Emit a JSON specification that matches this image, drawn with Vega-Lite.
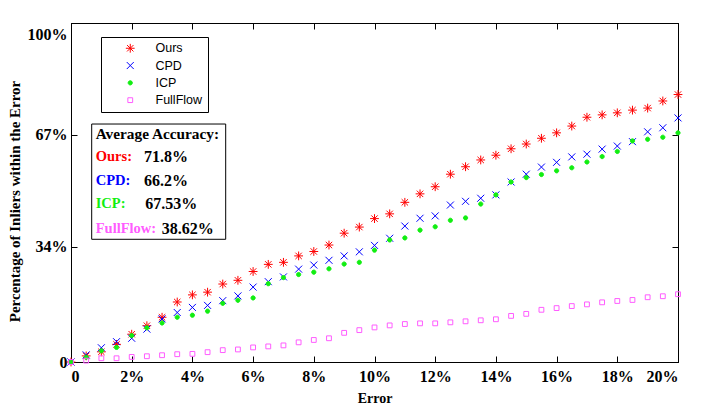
{
  "$schema": "https://vega.github.io/schema/vega-lite/v6.json",
  "width": 607,
  "height": 339,
  "autosize": {"type": "none"},
  "padding": {"left": 71, "top": 23, "right": 25, "bottom": 45},
  "background": "white",
  "data": {
    "values": [
      {"e": 0, "m": "Ours", "v": 0}, {"e": 0.5, "m": "Ours", "v": 1.8}, {"e": 1, "m": "Ours", "v": 3.0}, {"e": 1.5, "m": "Ours", "v": 5.2},
      {"e": 2, "m": "Ours", "v": 8.2}, {"e": 2.5, "m": "Ours", "v": 10.7}, {"e": 3, "m": "Ours", "v": 13.2}, {"e": 3.5, "m": "Ours", "v": 17.7},
      {"e": 4, "m": "Ours", "v": 19.8}, {"e": 4.5, "m": "Ours", "v": 20.6}, {"e": 5, "m": "Ours", "v": 23.0}, {"e": 5.5, "m": "Ours", "v": 24.1},
      {"e": 6, "m": "Ours", "v": 26.7}, {"e": 6.5, "m": "Ours", "v": 28.8}, {"e": 7, "m": "Ours", "v": 29.4}, {"e": 7.5, "m": "Ours", "v": 31.3},
      {"e": 8, "m": "Ours", "v": 32.6}, {"e": 8.5, "m": "Ours", "v": 34.5}, {"e": 9, "m": "Ours", "v": 38.0}, {"e": 9.5, "m": "Ours", "v": 39.8},
      {"e": 10, "m": "Ours", "v": 42.3}, {"e": 10.5, "m": "Ours", "v": 43.7}, {"e": 11, "m": "Ours", "v": 47.1}, {"e": 11.5, "m": "Ours", "v": 49.6},
      {"e": 12, "m": "Ours", "v": 51.7}, {"e": 12.5, "m": "Ours", "v": 55.4}, {"e": 13, "m": "Ours", "v": 57.6}, {"e": 13.5, "m": "Ours", "v": 59.6},
      {"e": 14, "m": "Ours", "v": 61.0}, {"e": 14.5, "m": "Ours", "v": 62.9}, {"e": 15, "m": "Ours", "v": 64.3}, {"e": 15.5, "m": "Ours", "v": 66.0},
      {"e": 16, "m": "Ours", "v": 67.6}, {"e": 16.5, "m": "Ours", "v": 69.6}, {"e": 17, "m": "Ours", "v": 72.2}, {"e": 17.5, "m": "Ours", "v": 72.9},
      {"e": 18, "m": "Ours", "v": 73.5}, {"e": 18.5, "m": "Ours", "v": 74.3}, {"e": 19, "m": "Ours", "v": 74.9}, {"e": 19.5, "m": "Ours", "v": 77.0},
      {"e": 20, "m": "Ours", "v": 78.9},
      {"e": 0, "m": "CPD", "v": 0}, {"e": 0.5, "m": "CPD", "v": 2.1}, {"e": 1, "m": "CPD", "v": 4.2}, {"e": 1.5, "m": "CPD", "v": 6.0},
      {"e": 2, "m": "CPD", "v": 7.0}, {"e": 2.5, "m": "CPD", "v": 9.7}, {"e": 3, "m": "CPD", "v": 12.7}, {"e": 3.5, "m": "CPD", "v": 14.6},
      {"e": 4, "m": "CPD", "v": 16.1}, {"e": 4.5, "m": "CPD", "v": 16.7}, {"e": 5, "m": "CPD", "v": 18.1}, {"e": 5.5, "m": "CPD", "v": 19.5},
      {"e": 6, "m": "CPD", "v": 22.1}, {"e": 6.5, "m": "CPD", "v": 23.7}, {"e": 7, "m": "CPD", "v": 25.1}, {"e": 7.5, "m": "CPD", "v": 27.4},
      {"e": 8, "m": "CPD", "v": 28.6}, {"e": 8.5, "m": "CPD", "v": 30.0}, {"e": 9, "m": "CPD", "v": 31.3}, {"e": 9.5, "m": "CPD", "v": 32.5},
      {"e": 10, "m": "CPD", "v": 34.4}, {"e": 10.5, "m": "CPD", "v": 36.5}, {"e": 11, "m": "CPD", "v": 40.1}, {"e": 11.5, "m": "CPD", "v": 42.4},
      {"e": 12, "m": "CPD", "v": 43.1}, {"e": 12.5, "m": "CPD", "v": 46.3}, {"e": 13, "m": "CPD", "v": 47.4}, {"e": 13.5, "m": "CPD", "v": 48.3},
      {"e": 14, "m": "CPD", "v": 49.3}, {"e": 14.5, "m": "CPD", "v": 53.1}, {"e": 15, "m": "CPD", "v": 55.4}, {"e": 15.5, "m": "CPD", "v": 57.5},
      {"e": 16, "m": "CPD", "v": 58.9}, {"e": 16.5, "m": "CPD", "v": 60.5}, {"e": 17, "m": "CPD", "v": 61.3}, {"e": 17.5, "m": "CPD", "v": 62.8},
      {"e": 18, "m": "CPD", "v": 63.7}, {"e": 18.5, "m": "CPD", "v": 65.0}, {"e": 19, "m": "CPD", "v": 67.9}, {"e": 19.5, "m": "CPD", "v": 69.1},
      {"e": 20, "m": "CPD", "v": 72.0},
      {"e": 0, "m": "ICP", "v": 0}, {"e": 0.5, "m": "ICP", "v": 1.4}, {"e": 1, "m": "ICP", "v": 3.3}, {"e": 1.5, "m": "ICP", "v": 4.3},
      {"e": 2, "m": "ICP", "v": 7.8}, {"e": 2.5, "m": "ICP", "v": 10.1}, {"e": 3, "m": "ICP", "v": 11.5}, {"e": 3.5, "m": "ICP", "v": 13.2},
      {"e": 4, "m": "ICP", "v": 13.8}, {"e": 4.5, "m": "ICP", "v": 15.0}, {"e": 5, "m": "ICP", "v": 17.3}, {"e": 5.5, "m": "ICP", "v": 18.2},
      {"e": 6, "m": "ICP", "v": 18.9}, {"e": 6.5, "m": "ICP", "v": 23.1}, {"e": 7, "m": "ICP", "v": 24.9}, {"e": 7.5, "m": "ICP", "v": 25.8},
      {"e": 8, "m": "ICP", "v": 26.5}, {"e": 8.5, "m": "ICP", "v": 27.5}, {"e": 9, "m": "ICP", "v": 28.9}, {"e": 9.5, "m": "ICP", "v": 29.4},
      {"e": 10, "m": "ICP", "v": 33.0}, {"e": 10.5, "m": "ICP", "v": 36.0}, {"e": 11, "m": "ICP", "v": 36.6}, {"e": 11.5, "m": "ICP", "v": 38.9},
      {"e": 12, "m": "ICP", "v": 39.9}, {"e": 12.5, "m": "ICP", "v": 41.8}, {"e": 13, "m": "ICP", "v": 42.5}, {"e": 13.5, "m": "ICP", "v": 46.6},
      {"e": 14, "m": "ICP", "v": 49.3}, {"e": 14.5, "m": "ICP", "v": 53.1}, {"e": 15, "m": "ICP", "v": 54.4}, {"e": 15.5, "m": "ICP", "v": 55.3},
      {"e": 16, "m": "ICP", "v": 56.4}, {"e": 16.5, "m": "ICP", "v": 57.3}, {"e": 17, "m": "ICP", "v": 59.0}, {"e": 17.5, "m": "ICP", "v": 60.6},
      {"e": 18, "m": "ICP", "v": 62.1}, {"e": 18.5, "m": "ICP", "v": 65.2}, {"e": 19, "m": "ICP", "v": 65.7}, {"e": 19.5, "m": "ICP", "v": 66.3},
      {"e": 20, "m": "ICP", "v": 67.6},
      {"e": 0, "m": "FullFlow", "v": 0}, {"e": 0.5, "m": "FullFlow", "v": 0.4}, {"e": 1, "m": "FullFlow", "v": 1.1}, {"e": 1.5, "m": "FullFlow", "v": 1.1},
      {"e": 2, "m": "FullFlow", "v": 1.5}, {"e": 2.5, "m": "FullFlow", "v": 1.7}, {"e": 3, "m": "FullFlow", "v": 2.0}, {"e": 3.5, "m": "FullFlow", "v": 2.3},
      {"e": 4, "m": "FullFlow", "v": 2.4}, {"e": 4.5, "m": "FullFlow", "v": 2.9}, {"e": 5, "m": "FullFlow", "v": 3.5}, {"e": 5.5, "m": "FullFlow", "v": 3.7},
      {"e": 6, "m": "FullFlow", "v": 4.3}, {"e": 6.5, "m": "FullFlow", "v": 4.6}, {"e": 7, "m": "FullFlow", "v": 4.9}, {"e": 7.5, "m": "FullFlow", "v": 5.8},
      {"e": 8, "m": "FullFlow", "v": 6.5}, {"e": 8.5, "m": "FullFlow", "v": 7.0}, {"e": 9, "m": "FullFlow", "v": 8.6}, {"e": 9.5, "m": "FullFlow", "v": 9.4},
      {"e": 10, "m": "FullFlow", "v": 10.2}, {"e": 10.5, "m": "FullFlow", "v": 10.8}, {"e": 11, "m": "FullFlow", "v": 11.2}, {"e": 11.5, "m": "FullFlow", "v": 11.4},
      {"e": 12, "m": "FullFlow", "v": 11.4}, {"e": 12.5, "m": "FullFlow", "v": 11.7}, {"e": 13, "m": "FullFlow", "v": 12.0}, {"e": 13.5, "m": "FullFlow", "v": 12.3},
      {"e": 14, "m": "FullFlow", "v": 12.6}, {"e": 14.5, "m": "FullFlow", "v": 13.6}, {"e": 15, "m": "FullFlow", "v": 14.2}, {"e": 15.5, "m": "FullFlow", "v": 15.4},
      {"e": 16, "m": "FullFlow", "v": 15.9}, {"e": 16.5, "m": "FullFlow", "v": 16.5}, {"e": 17, "m": "FullFlow", "v": 17.0}, {"e": 17.5, "m": "FullFlow", "v": 17.6},
      {"e": 18, "m": "FullFlow", "v": 18.0}, {"e": 18.5, "m": "FullFlow", "v": 18.3}, {"e": 19, "m": "FullFlow", "v": 19.1}, {"e": 19.5, "m": "FullFlow", "v": 19.4},
      {"e": 20, "m": "FullFlow", "v": 20.0}
    ]
  },
  "layer": [
    {
      "mark": {"type": "point", "size": 100, "opacity": 1},
      "encoding": {
        "x": {
          "field": "e", "type": "quantitative",
          "scale": {"domain": [0, 20], "nice": false},
          "axis": {
            "orient": "bottom", "title": "Error",
            "values": [0, 2, 4, 6, 8, 10, 12, 14, 16, 18, 20],
            "labelExpr": "datum.value === 0 ? '0' : datum.value + '%'",
            "tickSize": -6, "labelPadding": 12, "titlePadding": 7
          }
        },
        "y": {
          "field": "v", "type": "quantitative",
          "scale": {"domain": [0, 100], "nice": false},
          "axis": {
            "orient": "left", "title": "Percentage of Inliers within the Error",
            "values": [0, 34, 67, 100],
            "labelExpr": "datum.value === 0 ? '0' : datum.value + '%'",
            "labelOffset": {"condition": {"test": "datum.value === 100", "value": 11}, "value": 0},
            "tickSize": -6, "labelPadding": 10, "titlePadding": 5,
            "titleFontSize": 15, "titleY": 178
          }
        },
        "shape": {
          "field": "m", "type": "nominal",
          "scale": {
            "domain": ["Ours", "CPD", "ICP", "FullFlow"],
            "range": [
              "M-0.88,0L0.88,0M0,-0.88L0,0.88M-0.64,-0.64L0.64,0.64M-0.64,0.64L0.64,-0.64",
              "M-0.7,-0.7L0.7,0.7M-0.7,0.7L0.7,-0.7",
              "M0.42,0A0.42,0.42 0 1,1 -0.42,0A0.42,0.42 0 1,1 0.42,0Z",
              "M-0.48,-0.48L0.48,-0.48L0.48,0.48L-0.48,0.48Z"
            ]
          }
        },
        "stroke": {
          "field": "m", "type": "nominal",
          "scale": {"domain": ["Ours", "CPD", "ICP", "FullFlow"], "range": ["#ff0000", "#0000ff", "#11ee11", "#ff5cff"]}
        },
        "fill": {
          "field": "m", "type": "nominal",
          "scale": {"domain": ["Ours", "CPD", "ICP", "FullFlow"], "range": ["transparent", "transparent", "#11ee11", "transparent"]}
        },
        "strokeWidth": {
          "field": "m", "type": "nominal",
          "scale": {"domain": ["Ours", "CPD", "ICP", "FullFlow"], "range": [1, 1, 0.3, 1.6]}
        }
      }
    },
    {
      "mark": {"type": "point", "opacity": 0},
      "encoding": {
        "x": {
          "field": "e", "type": "quantitative",
          "axis": {"orient": "top", "title": null, "labels": false, "values": [0, 2, 4, 6, 8, 10, 12, 14, 16, 18, 20], "tickSize": -6}
        },
        "y": {
          "field": "v", "type": "quantitative",
          "axis": {"orient": "right", "title": null, "labels": false, "values": [0, 34, 67, 100], "tickSize": -6}
        }
      }
    },
    {
      "data": {"values": [{}]},
      "mark": {"type": "rect", "fill": "white", "stroke": "black", "strokeWidth": 1},
      "encoding": {
        "x": {"datum": 0.682, "type": "quantitative", "axis": null},
        "x2": {"datum": 5.097},
        "y": {"datum": 70.2, "type": "quantitative", "axis": null},
        "y2": {"datum": 36.2}
      }
    },
    {
      "data": {"values": [{"t": "Average Accuracy:"}]},
      "mark": {"type": "text", "align": "left", "baseline": "middle", "font": "Liberation Serif", "fontWeight": "bold", "fontSize": 15.3, "color": "black"},
      "encoding": {
        "x": {"datum": 0.814, "type": "quantitative", "axis": null},
        "y": {"datum": 67.3, "type": "quantitative", "axis": null},
        "text": {"field": "t"}
      }
    },
    {
      "data": {"values": [{"t": "Ours:"}]},
      "mark": {"type": "text", "align": "left", "baseline": "middle", "font": "Liberation Serif", "fontWeight": "bold", "fontSize": 14.5, "color": "#ff0000"},
      "encoding": {
        "x": {"datum": 0.814, "type": "quantitative", "axis": null},
        "y": {"datum": 60.4, "type": "quantitative", "axis": null},
        "text": {"field": "t"}
      }
    },
    {
      "data": {"values": [{"t": "71.8%"}]},
      "mark": {"type": "text", "align": "left", "baseline": "middle", "font": "Liberation Serif", "fontWeight": "bold", "fontSize": 16, "color": "black"},
      "encoding": {
        "x": {"datum": 2.405, "type": "quantitative", "axis": null},
        "y": {"datum": 60.4, "type": "quantitative", "axis": null},
        "text": {"field": "t"}
      }
    },
    {
      "data": {"values": [{"t": "CPD:"}]},
      "mark": {"type": "text", "align": "left", "baseline": "middle", "font": "Liberation Serif", "fontWeight": "bold", "fontSize": 14.5, "color": "#0000ff"},
      "encoding": {
        "x": {"datum": 0.814, "type": "quantitative", "axis": null},
        "y": {"datum": 53.4, "type": "quantitative", "axis": null},
        "text": {"field": "t"}
      }
    },
    {
      "data": {"values": [{"t": "66.2%"}]},
      "mark": {"type": "text", "align": "left", "baseline": "middle", "font": "Liberation Serif", "fontWeight": "bold", "fontSize": 16, "color": "black"},
      "encoding": {
        "x": {"datum": 2.405, "type": "quantitative", "axis": null},
        "y": {"datum": 53.4, "type": "quantitative", "axis": null},
        "text": {"field": "t"}
      }
    },
    {
      "data": {"values": [{"t": "ICP:"}]},
      "mark": {"type": "text", "align": "left", "baseline": "middle", "font": "Liberation Serif", "fontWeight": "bold", "fontSize": 14.5, "color": "#11ee11"},
      "encoding": {
        "x": {"datum": 0.814, "type": "quantitative", "axis": null},
        "y": {"datum": 46.5, "type": "quantitative", "axis": null},
        "text": {"field": "t"}
      }
    },
    {
      "data": {"values": [{"t": "67.53%"}]},
      "mark": {"type": "text", "align": "left", "baseline": "middle", "font": "Liberation Serif", "fontWeight": "bold", "fontSize": 16, "color": "black"},
      "encoding": {
        "x": {"datum": 2.448, "type": "quantitative", "axis": null},
        "y": {"datum": 46.5, "type": "quantitative", "axis": null},
        "text": {"field": "t"}
      }
    },
    {
      "data": {"values": [{"t": "FullFlow:"}]},
      "mark": {"type": "text", "align": "left", "baseline": "middle", "font": "Liberation Serif", "fontWeight": "bold", "fontSize": 14.5, "color": "#ff5cff"},
      "encoding": {
        "x": {"datum": 0.814, "type": "quantitative", "axis": null},
        "y": {"datum": 39.2, "type": "quantitative", "axis": null},
        "text": {"field": "t"}
      }
    },
    {
      "data": {"values": [{"t": "38.62%"}]},
      "mark": {"type": "text", "align": "left", "baseline": "middle", "font": "Liberation Serif", "fontWeight": "bold", "fontSize": 16, "color": "black"},
      "encoding": {
        "x": {"datum": 2.988, "type": "quantitative", "axis": null},
        "y": {"datum": 39.2, "type": "quantitative", "axis": null},
        "text": {"field": "t"}
      }
    }
  ],
  "resolve": {"axis": {"x": "independent", "y": "independent"}},
  "config": {
    "view": {"stroke": "black", "strokeWidth": 1},
    "axis": {
      "grid": false,
      "domainColor": "black",
      "tickColor": "black",
      "labelColor": "black",
      "titleColor": "black",
      "labelFont": "Liberation Serif",
      "labelFontWeight": "bold",
      "labelFontSize": 16,
      "titleFont": "Liberation Serif",
      "titleFontWeight": "bold",
      "titleFontSize": 14
    },
    "legend": {
      "orient": "none",
      "legendX": 30,
      "legendY": 14,
      "title": null,
      "strokeColor": "black",
      "fillColor": "white",
      "padding": 5,
      "symbolOffset": 18,
      "labelOffset": 19,
      "labelFont": "Liberation Sans",
      "labelFontSize": 12.5,
      "labelColor": "black",
      "rowPadding": 4.3,
      "symbolSize": 100
    }
  }
}
